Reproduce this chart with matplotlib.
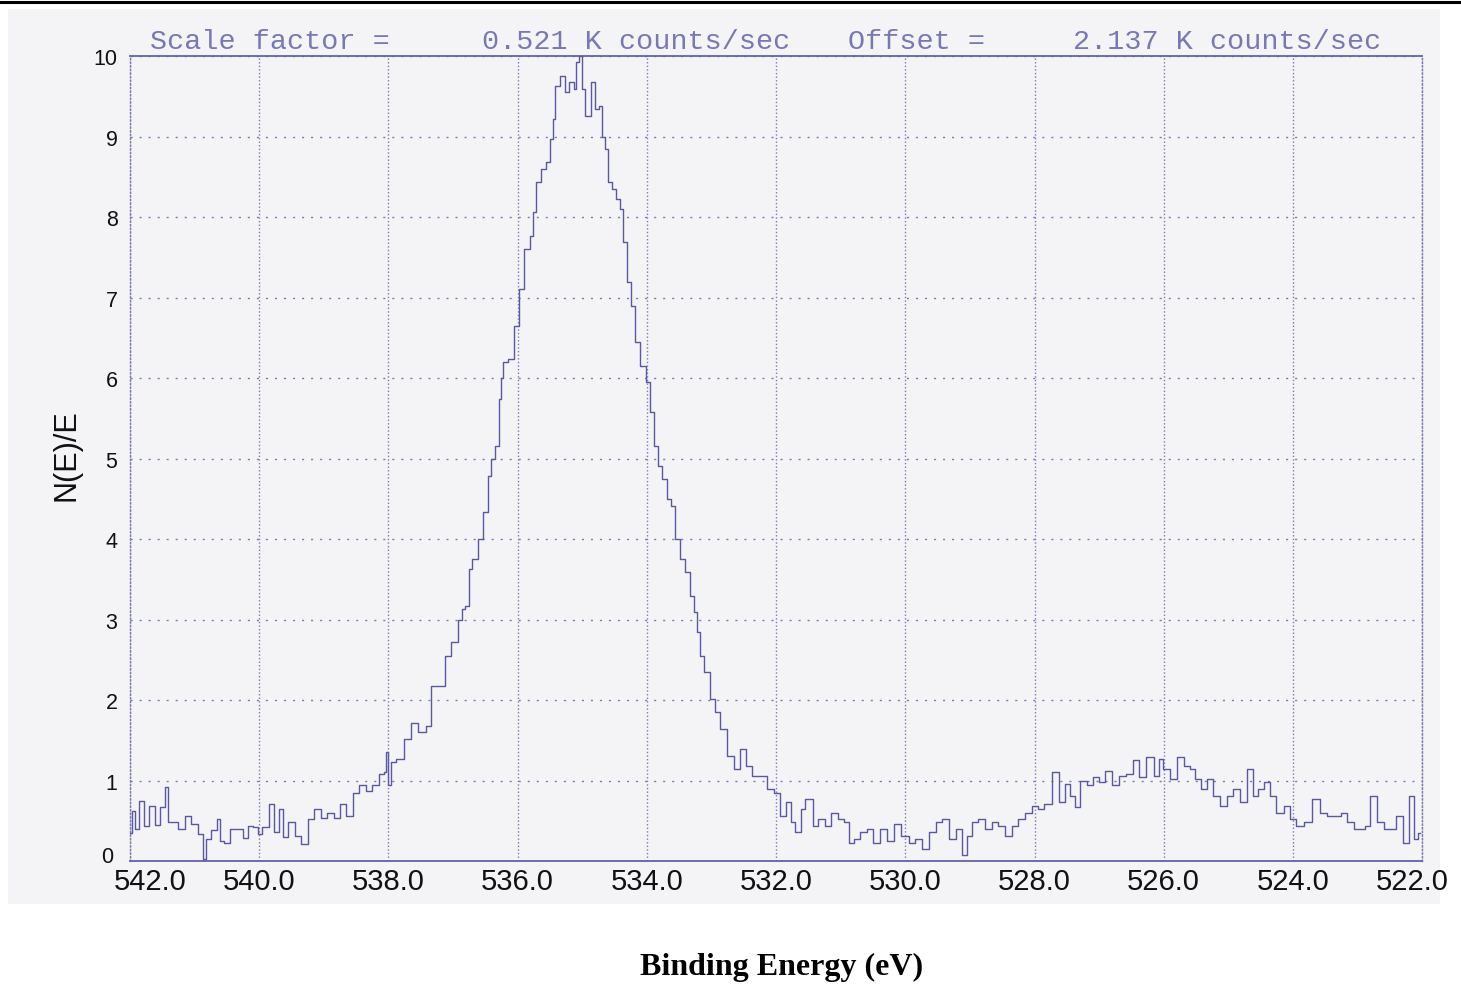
import matplotlib
matplotlib.use("Agg")
import matplotlib.pyplot as plt
import matplotlib.transforms as mtransforms
import numpy as np

# Binding energy (eV) and N(E)/E
energy = [542.00, 541.95, 541.90, 541.82, 541.75, 541.65, 541.58, 541.50, 541.43, 541.38,
          541.30, 541.20, 541.10, 541.00, 540.90, 540.85, 540.80, 540.70, 540.62, 540.58,
          540.50, 540.40, 540.30, 540.20, 540.15, 540.05, 540.00, 539.90, 539.80, 539.75,
          539.65, 539.60, 539.50, 539.40, 539.30, 539.20, 539.10, 539.00, 538.90, 538.80,
          538.70, 538.60, 538.50, 538.40, 538.30, 538.20, 538.10, 538.05, 538.02, 537.98,
          537.94, 537.82, 537.70, 537.59, 537.48, 537.36, 537.31, 537.17, 537.09, 536.97,
          536.89, 536.84, 536.78, 536.74, 536.66, 536.58, 536.50, 536.43, 536.38, 536.32,
          536.27, 536.24, 536.22, 536.09, 536.01, 535.96, 535.85, 535.78, 535.76, 535.68,
          535.60, 535.53, 535.47, 535.45, 535.39, 535.31, 535.24, 535.16, 535.11, 535.07,
          535.03, 534.99, 534.91, 534.83, 534.77, 534.72, 534.67, 534.62, 534.57, 534.52,
          534.45, 534.39, 534.34, 534.29, 534.21, 534.15, 534.06, 533.98, 533.92, 533.87,
          533.80, 533.72, 533.67, 533.59, 533.53, 533.45, 533.38, 533.30, 533.25, 533.21,
          533.15, 533.07, 532.99, 532.91, 532.82, 532.71, 532.60, 532.51, 532.43, 532.33,
          532.20, 532.09, 531.98, 531.89, 531.81, 531.74, 531.66, 531.58, 531.52, 531.45,
          531.40, 531.30, 531.20, 531.10, 530.99, 530.90, 530.84, 530.75, 530.64, 530.55,
          530.44, 530.34, 530.23, 530.12, 530.00, 529.90, 529.80, 529.69, 529.58, 529.48,
          529.38, 529.27, 529.17, 529.07, 529.02, 528.92, 528.82, 528.72, 528.61, 528.51,
          528.41, 528.30, 528.20, 528.10, 527.99, 527.91, 527.79, 527.68, 527.57, 527.50,
          527.40, 527.34, 527.25, 527.14, 527.04, 526.96, 526.86, 526.75, 526.64, 526.52,
          526.44, 526.34, 526.21, 526.10, 526.06, 525.95, 525.86, 525.72, 525.64, 525.55,
          525.47, 525.39, 525.28, 525.18, 525.08, 524.97, 524.87, 524.77, 524.66, 524.58,
          524.51, 524.40, 524.31, 524.20, 524.09, 524.00, 523.89, 523.78, 523.63, 523.53,
          523.42, 523.30, 523.22, 523.11, 523.00, 522.91, 522.85, 522.76, 522.65, 522.53,
          522.45, 522.35, 522.25, 522.16, 522.09, 522.03]

intensity = [0.35, 0.62, 0.40, 0.75, 0.44, 0.69, 0.45, 0.67, 0.92, 0.48,
             0.48, 0.40, 0.56, 0.46, 0.34, 0.02, 0.27, 0.38, 0.52, 0.25,
             0.23, 0.40, 0.40, 0.29, 0.44, 0.42, 0.34, 0.42, 0.71, 0.36,
             0.65, 0.30, 0.48, 0.31, 0.21, 0.52, 0.65, 0.54, 0.60, 0.54,
             0.71, 0.56, 0.85, 0.94, 0.87, 0.94, 1.08, 1.10, 1.35, 0.95,
             1.23, 1.27, 1.52, 1.72, 1.60, 1.68, 2.18, 2.18, 2.55, 2.72,
             3.00, 3.13, 3.17, 3.63, 3.75, 4.00, 4.33, 4.78, 5.00, 5.16,
             5.74, 6.00, 6.20, 6.24, 6.65, 7.10, 7.60, 7.77, 8.06, 8.43,
             8.60, 8.68, 8.97, 9.22, 9.63, 9.75, 9.55, 9.68, 9.59, 9.93,
             10.00, 9.59, 9.26, 9.68, 9.34, 9.38, 9.00, 8.85, 8.43, 8.35,
             8.22, 8.10, 7.69, 7.19, 6.90, 6.45, 6.15, 5.95, 5.58, 5.16,
             4.91, 4.75, 4.50, 4.41, 4.00, 3.75, 3.59, 3.29, 3.09, 2.84,
             2.55, 2.35, 2.01, 1.85, 1.64, 1.30, 1.14, 1.39, 1.18, 1.06,
             1.06, 0.89, 0.85, 0.56, 0.73, 0.48, 0.36, 0.65, 0.77, 0.77,
             0.44, 0.52, 0.44, 0.60, 0.52, 0.48, 0.23, 0.27, 0.36, 0.40,
             0.23, 0.40, 0.25, 0.46, 0.31, 0.23, 0.27, 0.15, 0.36, 0.48,
             0.52, 0.27, 0.40, 0.07, 0.31, 0.48, 0.52, 0.40, 0.48, 0.44,
             0.31, 0.44, 0.52, 0.60, 0.69, 0.65, 0.71, 1.10, 0.73, 0.96,
             0.81, 0.67, 1.00, 0.94, 1.04, 0.98, 1.12, 0.94, 1.06, 1.08,
             1.25, 1.04, 1.29, 1.06, 1.27, 1.14, 1.02, 1.29, 1.18, 1.14,
             1.02, 0.89, 1.02, 0.81, 0.69, 0.81, 0.89, 0.73, 1.14, 0.81,
             0.89, 0.98, 0.81, 0.60, 0.69, 0.52, 0.44, 0.48, 0.77, 0.60,
             0.56, 0.56, 0.60, 0.48, 0.40, 0.40, 0.44, 0.81, 0.48, 0.40,
             0.40, 0.56, 0.23, 0.81, 0.27, 0.35]

x_ticks = [542, 540, 538, 536, 534, 532, 530, 528, 526, 524, 522]
y_ticks = [0, 1, 2, 3, 4, 5, 6, 7, 8, 9, 10]

header = ["Scale factor =", "0.521 K counts/sec", "Offset =", "2.137 K counts/sec"]
header_x = [150, 482, 848, 1073]   # pixel positions of each piece

ink = "#5858a4"
paper = "#f4f4f6"

fig = plt.figure(figsize=(14.61, 9.87), dpi=100)
fig.patch.set_facecolor("white")

# scanned page area and the black rule at the top
fig.patches.append(plt.Rectangle((0.0055, 0.083), 0.980, 0.907, transform=fig.transFigure,
                                 facecolor=paper, edgecolor="none", zorder=-5))
fig.lines.append(plt.Line2D([0, 1], [0.9965, 0.9965], transform=fig.transFigure,
                            color="black", linewidth=2.2))

ax = fig.add_axes([0.089, 0.1266, 0.8844, 0.8156])
ax.set_facecolor(paper)

ax.plot(energy, intensity, color=ink, linewidth=1.0, drawstyle="steps-mid", zorder=3)

ax.set_xlim(542, 522)
ax.set_ylim(0, 10)
ax.set_xticks(x_ticks)
ax.set_xticklabels(["%.1f" % v for v in x_ticks])
ax.set_yticks(y_ticks)
ax.set_yticklabels([str(v) for v in y_ticks])

ax.tick_params(axis="x", length=0, pad=4, labelsize=21, labelcolor="#111111")
ax.tick_params(axis="y", length=0, pad=9, labelsize=15.5, labelcolor="#111111")
for lab in ax.get_xticklabels() + ax.get_yticklabels():
    lab.set_fontfamily("Liberation Sans")

ax.xaxis.grid(True, color="#7a7ab4", linewidth=1.0, linestyle=(0, (1, 1.6)))
ax.yaxis.grid(True, color="#7a7ab4", linewidth=1.0, linestyle=(0, (1.5, 5)))
ax.set_axisbelow(True)

for side in ["top", "bottom"]:
    ax.spines[side].set_color("#6262a8")
    ax.spines[side].set_linewidth(1.3)
for side in ["left", "right"]:
    ax.spines[side].set_color("#7a7ab4")
    ax.spines[side].set_linewidth(1.0)
    ax.spines[side].set_linestyle((0, (1, 1.6)))

for txt, px in zip(header, header_x):
    fig.text(px / 1461, 1 - 42 / 987, txt, fontsize=20.5, family="Liberation Mono",
             color="#7878b2", ha="left", va="center")

fig.text(67 / 1461, 1 - 455 / 987, "N(E)/E", rotation=90, fontsize=22,
         family="Liberation Sans", ha="center", va="center", color="#111111")
fig.text(782 / 1461, 1 - 967 / 987, "Binding Energy (eV)", fontsize=23,
         family="Liberation Serif", fontweight="bold", ha="center", va="center")

# first and last x labels sit a little inside the frame
fig.canvas.draw()
xl = ax.get_xticklabels()
xl[0].set_transform(xl[0].get_transform() + mtransforms.ScaledTranslation(0.20, 0, fig.dpi_scale_trans))
xl[-1].set_transform(xl[-1].get_transform() + mtransforms.ScaledTranslation(-0.10, 0, fig.dpi_scale_trans))
yl = ax.get_yticklabels()
yl[0].set_transform(yl[0].get_transform() + mtransforms.ScaledTranslation(-0.04, 0.07, fig.dpi_scale_trans))

fig.savefig("out.png", dpi=100)
